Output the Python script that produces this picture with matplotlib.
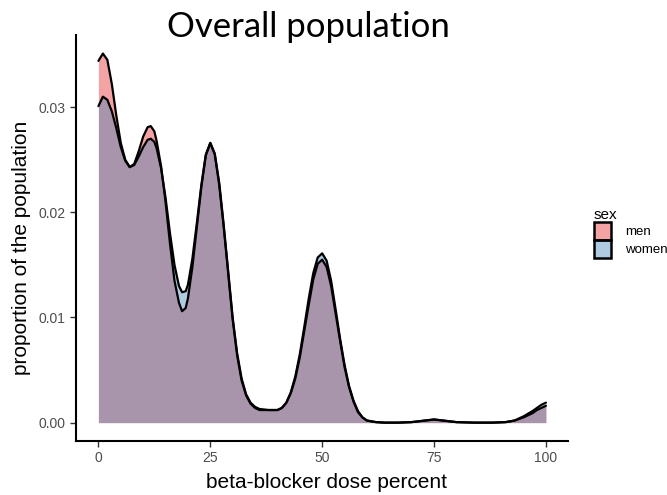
import matplotlib
matplotlib.use("Agg")
import matplotlib.pyplot as plt
from matplotlib.patches import Patch
from matplotlib.colors import to_rgba

# density curves
dose = [0, 1, 2, 3, 4, 5, 6, 7, 8, 9, 10, 11, 11.7, 12.5, 13, 14, 15, 16, 17, 18,
        18.7, 19.5, 20, 21, 22, 23, 24, 25, 26, 27, 28, 29, 30, 31, 32, 33, 34, 35,
        36, 38, 40, 41, 42, 43, 44, 45, 46, 47, 48, 49, 50, 51, 52, 53, 54, 55, 56,
        57, 58, 59, 60, 62, 64, 67, 70, 73, 75, 77, 80, 84, 88, 91, 93, 95, 97, 98,
        99, 100]

men = [0.0344, 0.0351, 0.0345, 0.0322, 0.0292, 0.0266, 0.0250, 0.0243, 0.0246,
       0.0258, 0.0272, 0.0281, 0.0282, 0.0277, 0.0268, 0.0244, 0.0210, 0.0170,
       0.0135, 0.0114, 0.0106, 0.0109, 0.0118, 0.0148, 0.0186, 0.0224, 0.0254,
       0.0266, 0.0255, 0.0226, 0.0186, 0.0142, 0.0098, 0.0064, 0.0040, 0.0026,
       0.0018, 0.0014, 0.0012, 0.0012, 0.0012, 0.0014, 0.0019, 0.0028, 0.0042,
       0.0062, 0.0087, 0.0112, 0.0136, 0.0151, 0.0155, 0.0148, 0.0130, 0.0104,
       0.0078, 0.0053, 0.0034, 0.0020, 0.0010, 0.0005, 0.0002, 0.00005, 0.0, 0.0,
       0.00005, 0.0002, 0.0003, 0.0002, 0.00005, 0.0, 0.0, 0.00005, 0.0002, 0.0005,
       0.0009, 0.0012, 0.0014, 0.0016]

women = [0.0301, 0.0310, 0.0307, 0.0296, 0.0280, 0.0262, 0.0249, 0.0243, 0.0245,
         0.0253, 0.0262, 0.0269, 0.0270, 0.0267, 0.0261, 0.0242, 0.0214, 0.0180,
         0.0150, 0.0130, 0.0124, 0.0125, 0.0131, 0.0156, 0.0190, 0.0226, 0.0255,
         0.0266, 0.0256, 0.0228, 0.0188, 0.0144, 0.0100, 0.0066, 0.0042, 0.0027,
         0.0019, 0.0015, 0.0013, 0.0012, 0.0012, 0.0014, 0.0019, 0.0029, 0.0044,
         0.0065, 0.0091, 0.0118, 0.0142, 0.0157, 0.0161, 0.0154, 0.0135, 0.0108,
         0.0080, 0.0055, 0.0035, 0.0021, 0.0011, 0.0005, 0.0002, 0.00005, 0.0, 0.0,
         0.00005, 0.0002, 0.0003, 0.0002, 0.00005, 0.0, 0.0, 0.00005, 0.0002, 0.0006,
         0.0011, 0.0014, 0.0017, 0.0019]

groups = ["men", "women"]
colors = {"men": "#E41A1C", "women": "#377EB8"}
series = {"men": men, "women": women}
x_ticks = [0, 25, 50, 75, 100]
y_ticks = [0.00, 0.01, 0.02, 0.03]

plt.rcParams["font.family"] = ["Liberation Sans", "DejaVu Sans"]

fig = plt.figure(figsize=(6.67, 4.95), dpi=100)
ax = fig.add_axes([0.114, 0.109, 0.738, 0.820])

for g in groups:
    ax.fill_between(dose, series[g], color=colors[g], alpha=0.4, lw=0)
    ax.plot(dose, series[g], color="black", lw=1.6, solid_joinstyle="round",
            solid_capstyle="round")

ax.set_xlim(-5, 105)
ax.set_ylim(-0.00175, 0.03685)
ax.set_xticks(x_ticks)
ax.set_yticks(y_ticks)
ax.set_yticklabels([f"{v:.2f}" for v in y_ticks])
ax.tick_params(colors="#333333", labelcolor="#4D4D4D", labelsize=10,
               length=4, width=1)
for side in ["top", "right"]:
    ax.spines[side].set_visible(False)
for side in ["left", "bottom"]:
    ax.spines[side].set_linewidth(1.5)

fig.text(0.463, 1 - 27 / 495, "Overall population", family="Lato",
         fontsize=25, ha="center", va="center")
fig.text(22 / 667, 1 - 248 / 495, "proportion of the population",
         fontsize=15, rotation=90, ha="center", va="center")
fig.text(327 / 667, 1 - 482 / 495, "beta-blocker dose percent",
         fontsize=15, ha="center", va="center")

# legend keys: translucent fill, solid black border, stacked without gaps
handles = [Patch(facecolor=to_rgba(colors[g], 0.4), edgecolor="black", lw=1.8)
           for g in groups]
leg = fig.legend(handles, groups, loc="upper left",
                 bbox_to_anchor=(587 / 667, 1 - 201 / 495), frameon=False,
                 title="sex", fontsize=9.5, title_fontsize=11,
                 handlelength=1.3, handleheight=1.75, labelspacing=0.0,
                 handletextpad=1.1, borderpad=0, alignment="left")

fig.savefig("out.png", dpi=100)
